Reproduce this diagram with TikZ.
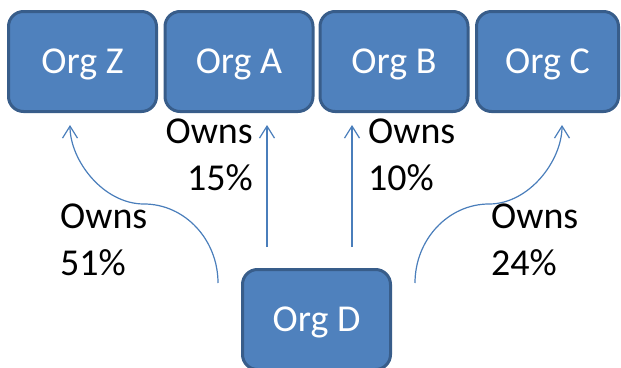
\documentclass[tikz,border=0pt]{standalone}
\usepackage{fontspec}
\setmainfont{Carlito}
\usetikzlibrary{arrows.meta}
\definecolor{boxfill}{HTML}{4F81BD}
\definecolor{boxline}{HTML}{385D8A}
\definecolor{arrowc}{HTML}{4A7EBB}
\begin{document}
\begin{tikzpicture}[x=1pt,y=-1pt,
  org/.style={draw=boxline, line width=3pt, fill=boxfill, rounded corners=15pt,
    text=white, font=\fontsize{38}{46}\selectfont, minimum width=148pt,
    minimum height=100pt, inner sep=0pt, text height=24.5pt, text depth=0pt},
  lbl/.style={font=\fontsize{38}{47}\selectfont, inner sep=0pt},
  conn/.style={draw=arrowc, line width=1.2pt, -{Straight Barb[length=12pt,width=15pt]}}]
\useasboundingbox (0,0) rectangle (621,367);
\node[org] (Z) at (82.5,61.5) {Org Z};
\node[org] (A) at (239,61.5) {Org A};
\node[org] (B) at (394,61.5) {Org B};
\node[org, minimum width=142pt] (C) at (547.5,61.5) {Org C};
\node[org] (D) at (316.5,319.5) {Org D};
\node[lbl, anchor=base west, align=left] (lz) at (60,275) {Owns\\51\%};
\node[lbl, anchor=base east, align=right] (la) at (253,190) {Owns\\15\%};
\node[lbl, anchor=base west, align=left] (lb) at (368,190) {Owns\\10\%};
\node[lbl, anchor=base west, align=left] (lc) at (491,275) {Owns\\24\%};
\coordinate (zs) at (218,283);
\coordinate (zm) at (144,204);
\coordinate (ze) at (70,125);
\coordinate (as) at (267,247);
\coordinate (ae) at (267,125);
\coordinate (bs) at (352,247);
\coordinate (be) at (352,125);
\coordinate (cs) at (415,283);
\coordinate (cm) at (489,204);
\coordinate (ce) at (562,125);
\draw[conn] (zs) .. controls (218,239.5) and (184.7,204) .. (zm)
  .. controls (103.3,204) and (70,160.5) .. (ze);
\draw[conn] (as) -- (ae);
\draw[conn] (bs) -- (be);
\draw[conn] (cs) .. controls (415,239.5) and (448.3,204) .. (cm)
  .. controls (529.3,204) and (562,160.5) .. (ce);
\end{tikzpicture}
\end{document}
